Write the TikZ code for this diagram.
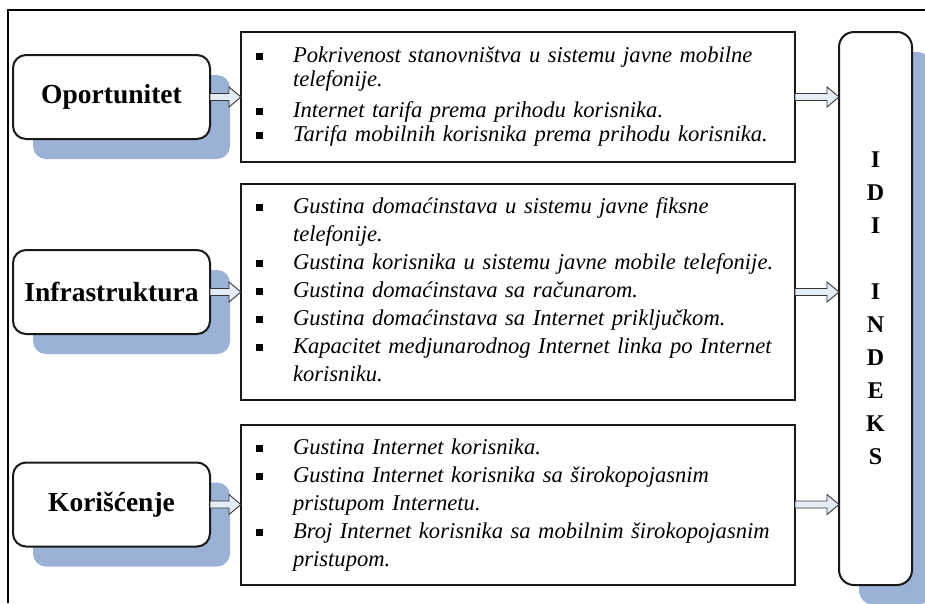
\documentclass[tikz,border=0pt]{standalone}
\usepackage{fontspec}
\setmainfont{Liberation Serif}
\usepackage{xcolor}
\usepackage{tikz}
\usetikzlibrary{positioning,calc,shadows}

\definecolor{shadowblue}{RGB}{156,177,214}
\definecolor{arrowfill}{RGB}{228,236,246}
\definecolor{edgegray}{RGB}{55,55,55}
\newcommand{\sq}{\raisebox{2.5pt}{\rule{7pt}{7pt}}}
% hollow block arrow from the east side of #1 to the west side of #2
\newcommand{\blockarr}[2]{%
  \draw[arrbody] let \p1=(#1.east), \p2=(#2.west) in
    (\x1,\y1+3.5pt) -- (\x2-12pt,\y1+3.5pt) -- (\x2-12pt,\y1+10pt) -- (\x2,\y1)
    -- (\x2-12pt,\y1-10pt) -- (\x2-12pt,\y1-3.5pt) -- (\x1,\y1-3.5pt) -- cycle;}

\begin{document}
\begin{tikzpicture}[x=1pt, y=-1pt,
  bshadow/.style={drop shadow={shadow xshift=20pt, shadow yshift=-20pt, fill=shadowblue, opacity=1}},
  catbox/.style={draw=black!90, line width=2pt, rounded corners=13pt, fill=white, outer sep=0pt, minimum width=197pt, minimum height=84pt, font=\fontsize{27.5}{32}\selectfont\bfseries, bshadow},
  listbox/.style={draw=black!90, line width=2pt, fill=white, outer sep=0pt, text width=524pt, inner xsep=15pt, inner ysep=0pt, align=left, font=\fontsize{22.6}{28}\selectfont\itshape},
  idibox/.style={draw=black!90, line width=2pt, rounded corners=15pt, fill=white, outer sep=0pt, minimum width=73pt, minimum height=553pt, align=center, font=\fontsize{24}{33}\selectfont\bfseries, bshadow},
  arrbody/.style={draw=edgegray, line width=0.9pt, fill=arrowfill}]
\useasboundingbox (0,0) rectangle (925,603);
\draw[line width=1.5pt] (8,603) -- (8,10) -- (925,10);

\node[catbox] (opp) at (111.5,97) {Oportunitet};
\node[catbox] (infra) at (111.5,292) {Infrastruktura};
\node[catbox] (usage) at (111.5,504.5) {Korišćenje};

\node[listbox, minimum height=130pt, right=31pt of opp, font=\fontsize{22.6}{24}\selectfont\itshape] (opplist) {%
\begin{tabular}{@{}l@{\hspace{30pt}}l@{}}
\sq & Pokrivenost stanovništva u sistemu javne mobilne\\
    & telefonije.\\[7pt]
\sq & Internet tarifa prema prihodu korisnika.\\
\sq & Tarifa mobilnih korisnika prema prihodu korisnika.
\end{tabular}};
\node[listbox, minimum height=216pt, right=31pt of infra] (infralist) {%
\begin{tabular}{@{}l@{\hspace{30pt}}l@{}}
\sq & Gustina domaćinstava u sistemu javne fiksne\\
    & telefonije.\\
\sq & Gustina korisnika u sistemu javne mobile telefonije.\\
\sq & Gustina domaćinstava sa računarom.\\
\sq & Gustina domaćinstava sa Internet priključkom.\\
\sq & Kapacitet medjunarodnog Internet linka po Internet\\
    & korisniku.
\end{tabular}};
\node[listbox, minimum height=160pt, right=31pt of usage] (usagelist) {%
\begin{tabular}{@{}l@{\hspace{30pt}}l@{}}
\sq & Gustina Internet korisnika.\\
\sq & Gustina Internet korisnika sa širokopojasnim\\
    & pristupom Internetu.\\
\sq & Broj Internet korisnika sa mobilnim širokopojasnim\\
    & pristupom.
\end{tabular}};

\node[idibox] (idi) at (875.5,308.5) {I\\D\\I\\[33pt]I\\N\\D\\E\\K\\S};

\blockarr{opp}{opplist}
\blockarr{infra}{infralist}
\blockarr{usage}{usagelist}
\blockarr{opplist}{idi}
\blockarr{infralist}{idi}
\blockarr{usagelist}{idi}
\end{tikzpicture}
\end{document}
